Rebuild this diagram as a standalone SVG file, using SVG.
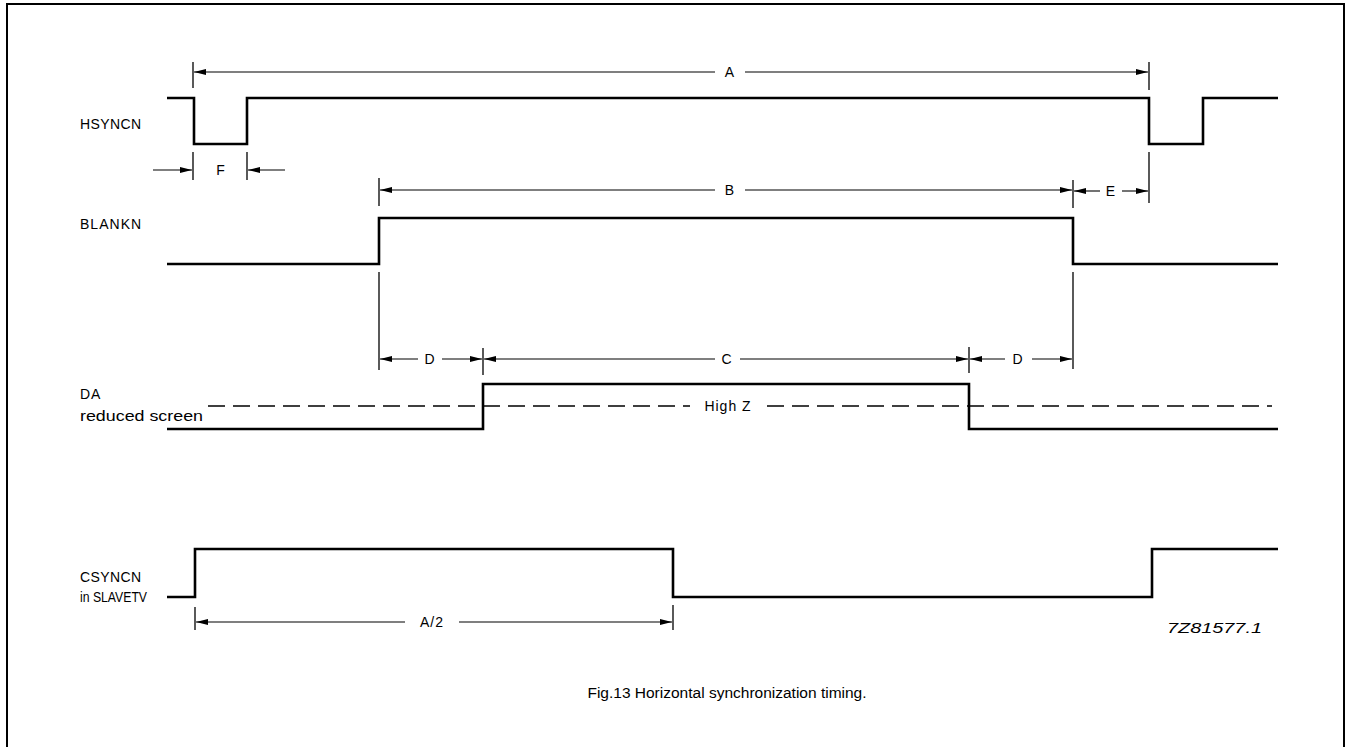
<svg xmlns="http://www.w3.org/2000/svg" width="1349" height="747" viewBox="0 0 1349 747">
<style>
.sig{fill:none;stroke:#000;stroke-width:2.6;stroke-linejoin:miter}
.dim{fill:none;stroke:#000;stroke-width:1.1}
.tick{fill:none;stroke:#000;stroke-width:1.3}
.dash{fill:none;stroke:#000;stroke-width:1.3;stroke-dasharray:17 8}
.lbl{font-family:"Liberation Sans",Arial,sans-serif;font-size:14px;letter-spacing:0.8px;fill:#000}
.dl{font-family:"Liberation Sans",Arial,sans-serif;font-size:14px;letter-spacing:1px;fill:#000;text-anchor:middle}
.cap{font-family:"Liberation Sans",Arial,sans-serif;font-size:15.5px;fill:#000;text-anchor:middle}
.ref{font-family:"Liberation Sans",Arial,sans-serif;font-size:14px;font-style:italic;fill:#000}
</style>
<defs>
<marker id="ah" viewBox="0 0 12 6" refX="12" refY="3" markerWidth="12" markerHeight="6" markerUnits="userSpaceOnUse" orient="auto-start-reverse">
<path d="M0,0 L12,3 L0,6 Z" fill="#000"/>
</marker>
</defs>
<rect x="7" y="4" width="1337" height="760" fill="none" stroke="#000" stroke-width="2"/>

<g id="HSYNCN">
<text class="lbl" x="80" y="129" textLength="62" lengthAdjust="spacing">HSYNCN</text>
<path class="sig" d="M167,98 H194 V144 H247 V98 H1149 V144 H1203 V98 H1278"/>
</g>
<g id="BLANKN">
<text class="lbl" x="80" y="229" textLength="62" lengthAdjust="spacing">BLANKN</text>
<path class="sig" d="M167,264 H379 V218 H1073 V264 H1278"/>
</g>
<g id="DA">
<text class="lbl" x="80" y="399">DA</text>
<text class="lbl" x="80" y="421" style="letter-spacing:0" textLength="123" lengthAdjust="spacingAndGlyphs">reduced screen</text>
<path class="sig" d="M167,429 H483 V384 H969 V429 H1278"/>
<path class="dash" d="M208,406 H690"/>
<path class="dash" d="M767,406 H1272"/>
<text class="dl" x="728" y="411">High Z</text>
</g>
<g id="CSYNCN">
<text class="lbl" x="80" y="582" textLength="62" lengthAdjust="spacing">CSYNCN</text>
<text class="lbl" x="80" y="602" style="letter-spacing:0" textLength="67" lengthAdjust="spacingAndGlyphs">in SLAVETV</text>
<path class="sig" d="M167,597 H195 V549 H673 V597 H1152 V549 H1278"/>
</g>

<g id="connectors">
<!-- A -->
<line class="tick" x1="193" y1="62" x2="193" y2="88"/>
<line class="tick" x1="1149" y1="62" x2="1149" y2="90"/>
<line class="dim" x1="715" y1="72" x2="194" y2="72" marker-end="url(#ah)"/>
<line class="dim" x1="745" y1="72" x2="1148" y2="72" marker-end="url(#ah)"/>
<!-- F -->
<line class="tick" x1="193" y1="152" x2="193" y2="180"/>
<line class="tick" x1="247" y1="152" x2="247" y2="180"/>
<line class="dim" x1="153" y1="170" x2="192" y2="170" marker-end="url(#ah)"/>
<line class="dim" x1="285" y1="170" x2="248" y2="170" marker-end="url(#ah)"/>
<!-- B -->
<line class="tick" x1="379" y1="178" x2="379" y2="206"/>
<line class="tick" x1="1073" y1="180" x2="1073" y2="208"/>
<line class="dim" x1="715" y1="190" x2="380" y2="190" marker-end="url(#ah)"/>
<line class="dim" x1="745" y1="190" x2="1072" y2="190" marker-end="url(#ah)"/>
<!-- E -->
<line class="tick" x1="1149" y1="152" x2="1149" y2="203"/>
<line class="dim" x1="1100" y1="191" x2="1074" y2="191" marker-end="url(#ah)"/>
<line class="dim" x1="1122" y1="191" x2="1148" y2="191" marker-end="url(#ah)"/>
<!-- D C D -->
<line class="tick" x1="379" y1="272" x2="379" y2="370"/>
<line class="tick" x1="483" y1="348" x2="483" y2="375"/>
<line class="tick" x1="969" y1="347" x2="969" y2="373"/>
<line class="tick" x1="1073" y1="272" x2="1073" y2="369"/>
<line class="dim" x1="418" y1="359" x2="380" y2="359" marker-end="url(#ah)"/>
<line class="dim" x1="442" y1="359" x2="482" y2="359" marker-end="url(#ah)"/>
<line class="dim" x1="715" y1="359" x2="484" y2="359" marker-end="url(#ah)"/>
<line class="dim" x1="740" y1="359" x2="968" y2="359" marker-end="url(#ah)"/>
<line class="dim" x1="1005" y1="359" x2="970" y2="359" marker-end="url(#ah)"/>
<line class="dim" x1="1032" y1="359" x2="1072" y2="359" marker-end="url(#ah)"/>
<!-- A/2 -->
<line class="tick" x1="195" y1="607" x2="195" y2="630"/>
<line class="tick" x1="673" y1="605" x2="673" y2="630"/>
<line class="dim" x1="405" y1="622" x2="196" y2="622" marker-end="url(#ah)"/>
<line class="dim" x1="459" y1="622" x2="672" y2="622" marker-end="url(#ah)"/>
</g>
<g id="dim-labels">
<text class="dl" x="730" y="77">A</text>
<text class="dl" x="221" y="175">F</text>
<text class="dl" x="730" y="195">B</text>
<text class="dl" x="1111" y="196">E</text>
<text class="dl" x="430" y="364">D</text>
<text class="dl" x="727" y="364">C</text>
<text class="dl" x="1018" y="364">D</text>
<text class="dl" x="432" y="627">A/2</text>
</g>
<text class="ref" x="1167" y="633" textLength="95" lengthAdjust="spacingAndGlyphs">7Z81577.1</text>
<text class="cap" x="727" y="698">Fig.13 Horizontal synchronization timing.</text>
</svg>
